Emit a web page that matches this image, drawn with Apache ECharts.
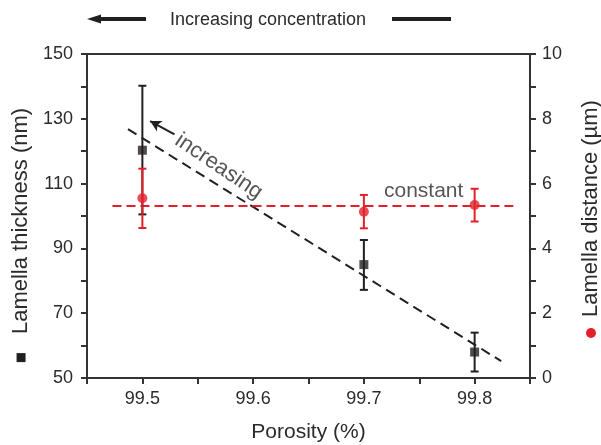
<!DOCTYPE html>
<html>
<head>
<meta charset="utf-8">
<script src="https://cdn.jsdelivr.net/npm/echarts@6/dist/echarts.min.js"></script>
<style>html,body{margin:0;padding:0;background:#fff}#c{width:601px;height:445px}</style>
</head>
<body>
<div id="c"></div>
<script>
// ---- data ----
var porosity = [99.5, 99.7, 99.8];
var thickness = [120.3, 85, 58];
var thicknessLow = [100.5, 77.2, 52];
var thicknessHigh = [140.2, 92.6, 64];
var distance = [5.55, 5.13, 5.34];
var distanceLow = [4.63, 4.62, 4.83];
var distanceHigh = [6.46, 5.65, 5.84];
var thicknessTrendX = [99.487, 99.824];
var thicknessTrendY = [126.8, 55.2];
var distanceTrendX = [99.473, 99.835];
var distanceTrendY = [5.31, 5.31];
var arrowFrom = [99.529, 125.2];
var arrowTo = [99.507, 129.3];
var increasingPos = [99.569, 115.3];
var constantPos = [99.754, 5.78];

var FONT = 'Liberation Sans';
var BLACK = '#231f20';
var RED = '#e3202a';
var TXT = '#2b2b2b';

function zip(a, b) { return a.map(function (v, i) { return [v, b[i]]; }); }
function zip3(a, b, c) { return a.map(function (v, i) { return [v, b[i], c[i]]; }); }

function errRender(color) {
  return function (params, api) {
    var x = api.value(0);
    var lo = api.coord([x, api.value(1)]);
    var hi = api.coord([x, api.value(2)]);
    var w = 4;
    var st = { stroke: color, lineWidth: 2 };
    return {
      type: 'group',
      children: [
        { type: 'line', shape: { x1: lo[0], y1: lo[1], x2: hi[0], y2: hi[1] }, style: st },
        { type: 'line', shape: { x1: lo[0] - w, y1: lo[1], x2: lo[0] + w, y2: lo[1] }, style: st },
        { type: 'line', shape: { x1: hi[0] - w, y1: hi[1], x2: hi[0] + w, y2: hi[1] }, style: st }
      ]
    };
  };
}

var chart = echarts.init(document.getElementById('c'), null, { renderer: 'canvas' });

var axisLine = { show: true, lineStyle: { color: '#333', width: 2 } };
var option = {
  animation: false,
  textStyle: { fontFamily: FONT },
  title: {
    text: 'Increasing concentration',
    left: 165, top: 6,
    textStyle: { fontFamily: FONT, fontSize: 18, fontWeight: 'normal', color: TXT }
  },
  grid: { left: 87, right: 71, top: 54, bottom: 67, containLabel: false, outerBoundsMode: 'none' },
  xAxis: [{
    type: 'value', min: 99.45, max: 99.85, interval: 0.05,
    axisLine: axisLine,
    axisTick: { show: true, inside: false, length: 6, lineStyle: { color: '#333', width: 2 } },
    axisLabel: {
      margin: 12, fontSize: 18, color: TXT, fontFamily: FONT,
      formatter: function (v) {
        var r = Math.round(v * 100);
        return (r % 10 === 0) ? (r / 100).toFixed(1) : '';
      }
    },
    splitLine: { show: false },
    name: 'Porosity (%)', nameLocation: 'middle', nameGap: 44,
    nameTextStyle: { fontSize: 21, color: TXT, fontFamily: FONT }
  }, {
    type: 'value', position: 'top', min: 99.45, max: 99.85,
    axisLine: axisLine, axisTick: { show: false }, axisLabel: { show: false }, splitLine: { show: false }
  }],
  yAxis: [{
    type: 'value', min: 50, max: 150, interval: 10, position: 'left',
    axisLine: axisLine,
    axisTick: { show: true, inside: false, length: 6, lineStyle: { color: '#333', width: 2 } },
    axisLabel: {
      margin: 14, fontSize: 18, color: TXT, fontFamily: FONT,
      formatter: function (v) { return ((v - 50) % 20 === 0) ? String(v) : ''; }
    },
    splitLine: { show: false },
    name: '{sq|}{g| }Lamella thickness (nm){pad| }', nameLocation: 'middle', nameGap: 53,
    nameTextStyle: {
      fontSize: 22, color: TXT, fontFamily: FONT,
      rich: {
        sq: { width: 9, height: 9, backgroundColor: BLACK },
        g: { width: 19, fontSize: 22 },
        pad: { width: 38, fontSize: 22 }
      }
    }
  }, {
    type: 'value', min: 0, max: 10, interval: 1, position: 'right',
    axisLine: axisLine,
    axisTick: { show: true, inside: false, length: 6, lineStyle: { color: '#333', width: 2 } },
    axisLabel: {
      margin: 12, fontSize: 18, color: TXT, fontFamily: FONT,
      formatter: function (v) { return (v % 2 === 0) ? String(v) : ''; }
    },
    splitLine: { show: false },
    name: '{dot|}{g| }Lamella distance (µm){pad| }', nameLocation: 'middle', nameGap: 50,
    nameRotate: 90,
    nameTextStyle: {
      fontSize: 22, color: TXT, fontFamily: FONT,
      rich: {
        dot: { width: 10, height: 10, borderRadius: 5, backgroundColor: RED },
        g: { width: 11, fontSize: 22 },
        pad: { width: 6, fontSize: 22 }
      }
    }
  }],
  graphic: [
    { type: 'polygon', shape: { points: [[87, 19], [101, 14.5], [101, 23.5]] }, style: { fill: BLACK } },
    { type: 'line', shape: { x1: 100, y1: 19, x2: 146, y2: 19 }, style: { stroke: BLACK, lineWidth: 4 } },
    { type: 'line', shape: { x1: 392, y1: 19, x2: 451, y2: 19 }, style: { stroke: BLACK, lineWidth: 4 } }
  ],
  series: [
    {
      type: 'line', data: zip(thicknessTrendX, thicknessTrendY), xAxisIndex: 0, yAxisIndex: 0,
      symbol: 'none', lineStyle: { color: BLACK, width: 2, type: [10, 6] }, z: 2, silent: true,
      markLine: {
        silent: true, symbol: ['none', 'arrow'], symbolSize: [9, 11],
        label: { show: false },
        lineStyle: { color: BLACK, width: 2, type: 'solid' },
        data: [[{ coord: arrowFrom }, { coord: arrowTo }]]
      }
    },
    {
      type: 'line', data: zip(distanceTrendX, distanceTrendY), xAxisIndex: 0, yAxisIndex: 1,
      symbol: 'none', lineStyle: { color: RED, width: 2, type: [9, 5] }, z: 2, silent: true
    },
    {
      type: 'custom', renderItem: errRender(BLACK), data: zip3(porosity, thicknessLow, thicknessHigh),
      xAxisIndex: 0, yAxisIndex: 0, z: 3, encode: { x: 0, y: [1, 2] }
    },
    {
      type: 'custom', renderItem: errRender(RED), data: zip3(porosity, distanceLow, distanceHigh),
      xAxisIndex: 0, yAxisIndex: 1, z: 3, encode: { x: 0, y: [1, 2] }
    },
    {
      type: 'scatter', data: zip(porosity, thickness), xAxisIndex: 0, yAxisIndex: 0,
      symbol: 'rect', symbolSize: 9, itemStyle: { color: BLACK }, z: 4
    },
    {
      type: 'scatter', data: zip(porosity, distance), xAxisIndex: 0, yAxisIndex: 1,
      symbol: 'circle', symbolSize: 10, itemStyle: { color: RED }, z: 4
    },
    {
      type: 'scatter', data: [increasingPos], xAxisIndex: 0, yAxisIndex: 0, symbolSize: 0, silent: true,
      label: { show: true, position: 'inside', formatter: 'increasing', rotate: -34,
        fontSize: 22, color: TXT, fontFamily: FONT }
    },
    {
      type: 'scatter', data: [constantPos], xAxisIndex: 0, yAxisIndex: 1, symbolSize: 0, silent: true,
      label: { show: true, position: 'inside', formatter: 'constant',
        fontSize: 21, color: TXT, fontFamily: FONT }
    }
  ]
};
chart.setOption(option);
</script>
</body>
</html>
